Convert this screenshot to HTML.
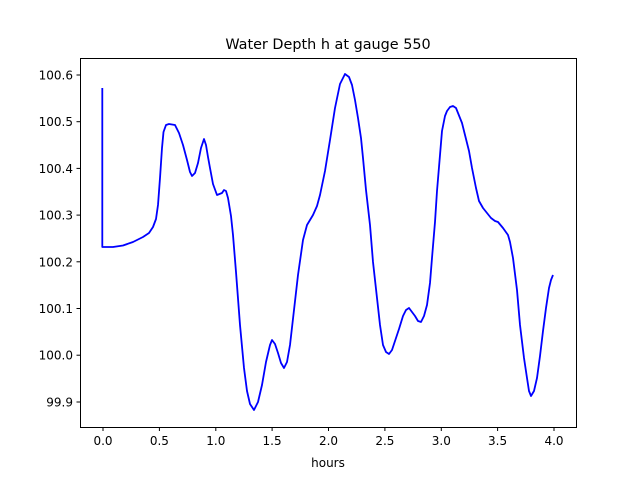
<!DOCTYPE html>
<html><head><meta charset="utf-8"><style>body{margin:0;background:#fff}svg{display:block}text{font-family:"DejaVu Sans",sans-serif;fill:#000}</style></head><body>
<svg width="640" height="480" xmlns="http://www.w3.org/2000/svg">
<rect width="640" height="480" fill="#fff"/>
<polyline fill="none" stroke="#0000ff" stroke-width="1.8" stroke-linejoin="round" points="102.3,88 102.3,247 113,247 123,245.5 133,242 143,237 149,233 153,227 156,219 158,205 160,178 162,148 163.5,132 166,125 169,124 175,125 179,133 183,145 187,160 190,172 192,176 195,173 198,163 201,148 204,139 206,145 208,157 210,168 213,184 217,195 222,193 224,190 226,191 228,198 231,216 233,235 236,272 240,325 244,368 247,391 250,404 254,410 258,402 262,385 266,362 270,345 272,340 275,344 278,353 281,363 284,368 287,362 290,345 294,310 298,275 303,240 307,225 313,215 317,206 320,195 325,171 330,140 335,108 340,84 345,74 349,77 352,85 355,100 358,118 361,138 363,158 366,190 370,225 373,262 377,298 380,325 383,345 386,352 389,354 392,350 395,341 399,329 403,316 406,310 409,308 412,312 415,316 418,321 421,322 424,316 427,305 430,283 432,258 435,222 437,191 440,155 442,131 445,116 447,111 450,107 453,106 456,108 458,113 462,123 465,135 469,151 472,168 476,188 479,201 483,208 487,213 491,218 495,221 498,222 503,228 508,235 510,242 513,258 517,290 520,325 524,358 527,378 529,391 531,396 534,391 537,378 540,356 543,331 546,308 549,288 551,280 553,275"/>
<rect x="80.5" y="58.5" width="496" height="369" fill="none" stroke="#000" stroke-width="1"/>
<g stroke="#000" stroke-width="1">
<line x1="103" y1="427" x2="103" y2="431"/><line x1="159.4" y1="427" x2="159.4" y2="431"/><line x1="215.8" y1="427" x2="215.8" y2="431"/><line x1="272.1" y1="427" x2="272.1" y2="431"/><line x1="328.5" y1="427" x2="328.5" y2="431"/><line x1="384.9" y1="427" x2="384.9" y2="431"/><line x1="441.3" y1="427" x2="441.3" y2="431"/><line x1="497.6" y1="427" x2="497.6" y2="431"/><line x1="554" y1="427" x2="554" y2="431"/>
<line x1="76.5" y1="75" x2="80" y2="75"/><line x1="76.5" y1="121.7" x2="80" y2="121.7"/><line x1="76.5" y1="168.4" x2="80" y2="168.4"/><line x1="76.5" y1="215.1" x2="80" y2="215.1"/><line x1="76.5" y1="261.8" x2="80" y2="261.8"/><line x1="76.5" y1="308.5" x2="80" y2="308.5"/><line x1="76.5" y1="355.2" x2="80" y2="355.2"/><line x1="76.5" y1="402" x2="80" y2="402"/>
</g>
<g font-size="12" text-anchor="middle">
<text x="103" y="445">0.0</text><text x="159.4" y="445">0.5</text><text x="215.8" y="445">1.0</text><text x="272.1" y="445">1.5</text><text x="328.5" y="445">2.0</text><text x="384.9" y="445">2.5</text><text x="441.3" y="445">3.0</text><text x="497.6" y="445">3.5</text><text x="554" y="445">4.0</text>
<text x="328" y="467">hours</text>
</g>
<g font-size="12" text-anchor="end">
<text x="73" y="79.5">100.6</text><text x="73" y="126.2">100.5</text><text x="73" y="172.9">100.4</text><text x="73" y="219.6">100.3</text><text x="73" y="266.3">100.2</text><text x="73" y="313">100.1</text><text x="73" y="359.7">100.0</text><text x="73" y="406.5">99.9</text>
</g>
<text x="328" y="49" font-size="14.4" text-anchor="middle">Water Depth h at gauge 550</text>
</svg>
</body></html>
